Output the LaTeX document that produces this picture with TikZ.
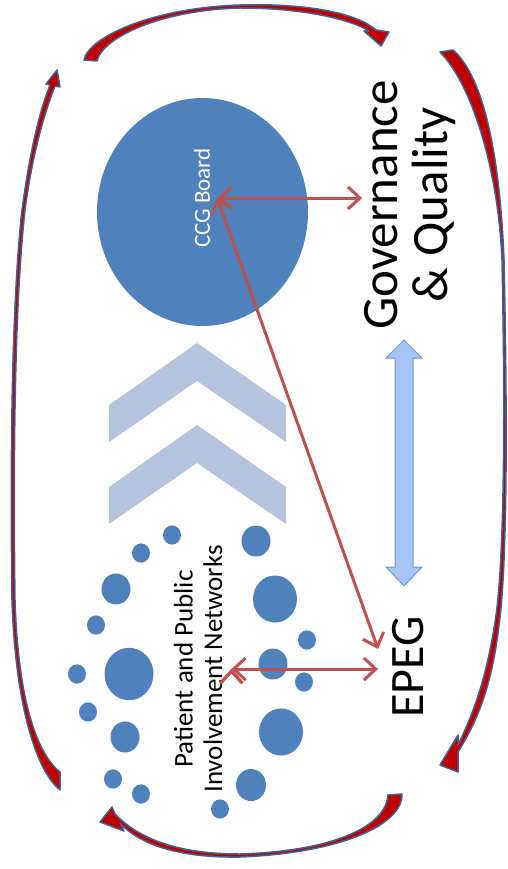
\documentclass[tikz,border=0pt]{standalone}
\usepackage{fontspec}
\setmainfont{Carlito}
\usetikzlibrary{arrows.meta,shapes.geometric}
\definecolor{dotblue}{HTML}{4F81BD}
\definecolor{chevblue}{HTML}{B4C4DF}
\definecolor{linkred}{HTML}{C0504D}
\definecolor{cyclered}{HTML}{C00000}
\definecolor{cycleedge}{HTML}{3C6496}
\definecolor{pipefill}{HTML}{A6C5F7}
\definecolor{pipeedge}{HTML}{7395CD}

\begin{document}
\begin{tikzpicture}[x=1pt,y=-1pt,>={Straight Barb[length=12pt,width=22pt]},
    link/.style={draw=linkred,line width=3pt,<->},
    cycle arrow/.style={fill=cyclered,draw=cycleedge,line width=1.5pt,line join=round},
    board node/.style={ellipse,fill=dotblue,minimum width=211pt,minimum height=228pt,inner sep=0pt},
    big label/.style={rotate=90,align=center,font=\fontsize{51}{50}\selectfont}]
  \useasboundingbox (0,0) rectangle (507,869);

  % cycle of curved arrows round the edge
  \filldraw[cycle arrow] (84,60) .. controls (88,38) and (150,8) .. (240,5)
    .. controls (310,3) and (358,14) .. (376,30) -- (389,32) -- (381,46) -- (364,31) -- (369,31)
    .. controls (352,20) and (305,8) .. (240,8) .. controls (160,10) and (102,38) .. (97,61) -- cycle;
  \filldraw[cycle arrow] (440,52) -- (453,50) .. controls (485,78) and (500,160) .. (504,260)
    .. controls (507,400) and (508,560) .. (499,625) .. controls (492,685) and (478,720) .. (458,752)
    -- (458,772) -- (440,765) -- (458,735) -- (458,745)
    .. controls (473,714) and (486,680) .. (495,622) .. controls (505,560) and (505,400) .. (502,260)
    .. controls (498,165) and (470,82) .. (440,52) -- cycle;
  \filldraw[cycle arrow] (388,795) -- (402,794) .. controls (403,825) and (340,853) .. (240,857)
    .. controls (180,858) and (140,845) .. (120,823) -- (124,831) -- (100,822) -- (112,807) -- (115,814)
    .. controls (140,840) and (180,854) .. (240,854) .. controls (335,851) and (386,826) .. (388,795) -- cycle;
  \filldraw[cycle arrow] (60,772) -- (60,790) .. controls (35,770) and (15,700) .. (12,600)
    .. controls (10,450) and (12,300) .. (22,210) .. controls (30,150) and (40,110) .. (50,85)
    -- (46,84) -- (57,70) -- (60,87) -- (55,86)
    .. controls (45,112) and (33,150) .. (25,210) .. controls (15,300) and (13,450) .. (15,600)
    .. controls (18,695) and (35,752) .. (60,772) -- cycle;

  % chevrons
  \foreach \dy in {0,82}
    \fill[chevblue] (109,{405+\dy}) -- (197,{343+\dy}) -- (286,{405+\dy}) -- (286,{442+\dy})
      -- (197,{381+\dy}) -- (109,{442+\dy}) -- cycle;

  % patient and public dots
  \foreach \cx/\cy/\r in {172/535/9, 141/553/9, 116/589/14.5, 96/625/9, 129/674/24.5,
      77/674/9, 88/712/9, 125/737/14.5, 113/779/9, 141/794/9, 256/541/14.5, 275/599/22,
      307/640/9, 273/664/14.5, 304/682/9, 281/732/22, 251/785/15, 220/809/9}
    \fill[dotblue] (\cx,\cy) ellipse [x radius=\r, y radius={1.07*\r}];

  % up-down arrow
  \filldraw[fill=pipefill,draw=pipeedge,line width=1pt] (404,340) -- (422,358) -- (413,358)
    -- (413,567) -- (422,567) -- (404,586) -- (386,567) -- (395,567) -- (395,358) -- (386,358) -- cycle;

  \node[board node] (board) at (202.5,212) {};
  \node[rotate=90,text=white,inner sep=7pt,font=\fontsize{23}{25}\selectfont] (ccg) at (202,198) {CCG Board};
  \node[big label,inner sep=2pt] (gov) at (410,205) {Governance\\\& Quality};
  \node[big label,inner sep=14pt,font=\fontsize{48}{50}\selectfont] (epeg) at (408,667) {EPEG};
  \node[rotate=90,align=center,inner sep=9pt,font=\fontsize{27}{29.5}\selectfont] (ppi) at (198,669)
    {Patient and Public\\Involvement Networks};

  \path[link]
    (ccg.south) edge (ccg.south -| gov.north)
                edge ([yshift=18pt]epeg.north)
    (ppi.south) edge (ppi.south -| epeg.north);
\end{tikzpicture}
\end{document}
